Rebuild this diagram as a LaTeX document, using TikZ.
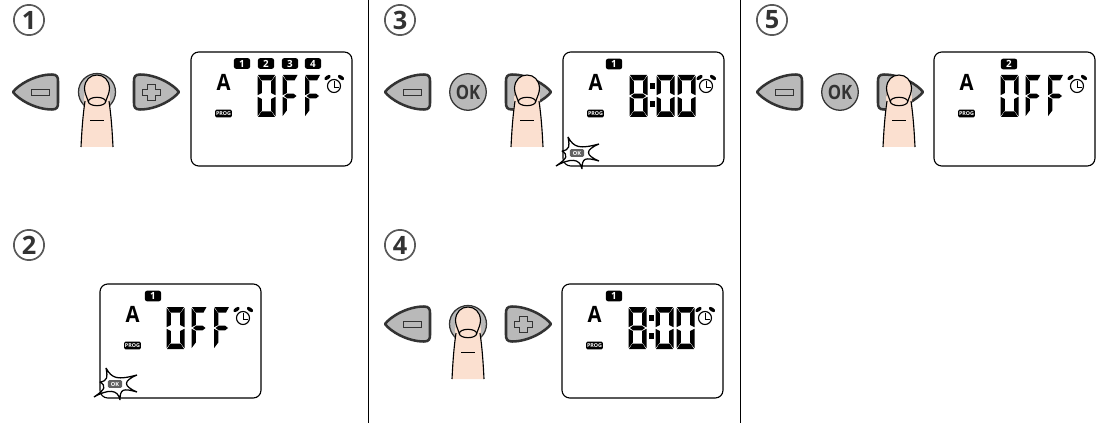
\documentclass[tikz,border=0pt]{standalone}
\usepackage{fontspec}
\setmainfont{Open Sans}
\definecolor{keygrey}{HTML}{B9B9B9}
\definecolor{skin}{HTML}{FBE0D0}
\definecolor{keyline}{HTML}{333333}
\tikzset{
	keyshape/.style={draw=keyline, line width=1.8pt, fill=keygrey, line join=round},
	keyglyph/.style={draw=keyline, line width=0.7pt, fill=keygrey},
	panelbox/.style={draw=black, line width=0.8pt, rounded corners=5.5pt, fill=white},
	badge/.style={fill=black, rounded corners=1.5pt, minimum width=11.5pt, minimum height=7.5pt, inner sep=0pt, text=white, font=\fontsize{7}{7}\selectfont\bfseries},
	stepmark/.style={circle, draw=black!65, line width=1.2pt, minimum size=21.5pt, inner sep=0pt, font=\fontsize{18}{18}\selectfont\bfseries, text=black!80},
	splitter/.style={draw=black, line width=0.5pt},
	fingerline/.style={line width=0.8pt}
}
% segments of one display digit, 17 wide and 42 high
\def\sega{\fill (0,0) -- (17,0) -- (13.5,5.5) -- (3.5,5.5) -- cycle;}
\def\segb{\fill (17.5,0.8) -- (17.5,20.2) -- (13.2,18) -- (13.2,6.5) -- cycle;}
\def\segc{\fill (17.5,21.8) -- (17.5,41.2) -- (13.2,35.5) -- (13.2,24) -- cycle;}
\def\segd{\fill (0,42) -- (17,42) -- (13.5,36.5) -- (3.5,36.5) -- cycle;}
\def\sege{\fill (-0.5,21.8) -- (-0.5,41.2) -- (3.8,35.5) -- (3.8,24) -- cycle;}
\def\segf{\fill (-0.5,0.8) -- (-0.5,20.2) -- (3.8,18) -- (3.8,6.5) -- cycle;}
\def\segg{\fill (1,21) -- (4.2,18.6) -- (12.8,18.6) -- (16,21) -- (12.8,23.4) -- (4.2,23.4) -- cycle;}
% the narrower top and middle bar of the letter F
\def\segh{\fill (0,0) -- (14.5,0) -- (11.5,5.5) -- (3.5,5.5) -- cycle;}
\def\segi{\fill (1,21) -- (4.2,18.6) -- (10.5,18.6) -- (13.5,21) -- (10.5,23.4) -- (4.2,23.4) -- cycle;}
\def\segdigit(#1,#2)#3{\begin{scope}[shift={(#1,#2)}]
	\foreach \s in {#3} {\csname seg\s\endcsname}
\end{scope}}
\def\minuskey(#1,#2){\begin{scope}[shift={(#1,#2)}]
	\draw[keyshape] (0,0) .. controls (5,-7) and (22,-17.5) .. (39,-17.5) .. controls (44,-17.5) and (45,-15) .. (45,-11) -- (45,11) .. controls (45,15) and (44,17.5) .. (39,17.5) .. controls (22,17.5) and (5,7) .. (0,0) -- cycle;
	\draw[keyglyph] (18,-3) rectangle (36,3);
\end{scope}}
\def\pluskey(#1,#2){\begin{scope}[shift={(#1,#2)}]
	\draw[keyshape] (45,0) .. controls (40,-7) and (23,-17.5) .. (6,-17.5) .. controls (1,-17.5) and (0,-15) .. (0,-11) -- (0,11) .. controls (0,15) and (1,17.5) .. (6,17.5) .. controls (23,17.5) and (40,7) .. (45,0) -- cycle;
	\draw[keyglyph] (13,-8) -- (21,-8) -- (21,-3) -- (26,-3) -- (26,3) -- (21,3) -- (21,8) -- (13,8) -- (13,3) -- (8,3) -- (8,-3) -- (13,-3) -- cycle;
\end{scope}}
\def\okkey(#1,#2)#3{\begin{scope}[shift={(#1,#2)}]
	\node[circle, draw=keyline, line width=0.9pt, fill=keygrey, minimum size=26pt, inner sep=0pt, text=keyline, font=\fontsize{14}{14}\selectfont\bfseries] (#3) at (0,0) {\scalebox{0.85}[1]{OK}};
\end{scope}}
\def\roundkey(#1,#2){\draw[keyshape, line width=0.9pt] (#1,#2) circle (18.5);}
\def\finger(#1,#2){\begin{scope}[shift={(#1,#2)}]
	\fill[skin] (-16,72) .. controls (-15,50) and (-13,34) .. (-12.5,14) .. controls (-12,5) and (-7,0) .. (0,0) .. controls (7,0) and (12,5) .. (12.5,14) .. controls (13,34) and (15,50) .. (16,72) -- cycle;
	\draw[fingerline] (-16,72) .. controls (-15,52) and (-14,40) .. (-12,26);
	\draw[fingerline] (16,72) .. controls (15,52) and (14,40) .. (12,26);
	\draw[fingerline] (-8.5,27) .. controls (-10.5,21) and (-12.5,18) .. (-12.5,13) .. controls (-12,5) and (-7,0) .. (0,0) .. controls (7,0) and (12,5) .. (12.5,13) .. controls (12.5,18) and (10.5,21) .. (8.5,27);
	\draw[fingerline] (0,26.5) ellipse (8.7 and 4.2);
	\draw[line width=0.7pt] (-7,45) -- (7,45);
\end{scope}}
\def\lcdbase(#1,#2)#3{\begin{scope}[shift={(#1,#2)}]
	\draw[panelbox] (0,0) rectangle (161,114);
	\node[font=\fontsize{16}{16}\selectfont\bfseries, inner sep=0pt] (#3A) at (32.5,30.5) {\scalebox{0.9}[1]{A}};
	\node[badge, minimum width=12pt, minimum height=5.6pt, rounded corners=1pt, font=\fontsize{3.8}{3.8}\selectfont\bfseries] (#3prog) at (32.5,61.5) {PROG};
	\draw[line width=0.8pt] (143,34) circle (6.5);
	\draw[line width=0.6pt] (143,29) -- (143,35) -- (147.5,35);
	\fill (136.5,25.5) ellipse [x radius=3.6, y radius=1.9, rotate=35];
	\fill (150,25.5) ellipse [x radius=3.6, y radius=1.9, rotate=-35];
\end{scope}}
\def\offtext(#1,#2){\segdigit(#1+67,#2+23){a,b,c,d,e,f}
	\segdigit(#1+92,#2+23){h,e,f,i}
	\segdigit(#1+114.5,#2+23){h,e,f,i}}
\def\timetext(#1,#2){\segdigit(#1+67,#2+23){a,b,c,d,e,f,g}
	\segdigit(#1+94,#2+23){a,b,c,d,e,f}
	\segdigit(#1+115,#2+23){a,b,c,d,e,f}
	\fill (#1+87,#2+31) rectangle (#1+92,#2+37);
	\fill (#1+87,#2+49) rectangle (#1+92,#2+55);}
\def\flash(#1,#2)#3{\begin{scope}[shift={(#1,#2)}]
	\draw[fill=white, line width=0.9pt, line join=bevel] (-9,-16) .. controls (-3,-5) and (3,-4) .. (22,-9) .. controls (8,-3) and (8,2) .. (22,8) .. controls (8,4) and (5,5) .. (5,16) .. controls (3,5) and (-7,5) .. (-21,13) .. controls (-9,5) and (-9,2) .. (-15,-2) .. controls (-8,-3) and (-7,-6) .. (-9,-16) -- cycle;
	\node[fill=black!62, rounded corners=1pt, minimum width=10pt, minimum height=5.6pt, inner sep=0pt, text=white, font=\fontsize{4}{4}\selectfont\bfseries] (#3) at (0,0) {OK};
\end{scope}}

\begin{document}
\begin{tikzpicture}[x=0.025cm, y=-0.025cm]
	%%%%% START %%%%%
	\useasboundingbox (0,0) rectangle (1103,426);

	\node[stepmark] (mark1) at (29,20) {1};
	\node[stepmark] (mark2) at (29,245) {2};
	\node[stepmark] (mark3) at (400,20) {3};
	\node[stepmark] (mark4) at (400,245) {4};
	\node[stepmark] (mark5) at (772,20) {5};

	\draw[splitter] (368.5,0) -- (368.5,423);
	\draw[splitter] (740.5,0) -- (740.5,423);

	% step 1
	\minuskey(13,92);
	\roundkey(97,92);
	\pluskey(134,92);
	\finger(97,75);
	\lcdbase(191,52){one}
	\foreach \n/\xx in {1/51,2/75,3/99,4/122} {
		\node[badge] (oneb\n) at (191+\xx,63.5) {\n};
	}
	\offtext(191,52);

	% step 2
	\lcdbase(100,284){two}
	\node[badge] (twob) at (153,296) {1};
	\offtext(100,284);
	\flash(115,384){twoflash}

	% step 3
	\minuskey(385,92);
	\okkey(468,92){threeok}
	\pluskey(506,92);
	\finger(527,75);
	\lcdbase(563,52){three}
	\node[badge] (threeb) at (614,64) {1};
	\timetext(563,52);
	\flash(577,153){threeflash}

	% step 4
	\minuskey(385,324);
	\roundkey(468,324);
	\pluskey(506,324);
	\finger(468,307);
	\lcdbase(562,284){four}
	\node[badge] (fourb) at (614,296) {1};
	\timetext(562,284);

	% step 5
	\minuskey(757,92);
	\okkey(840,92){fiveok}
	\pluskey(878,92);
	\finger(899,75);
	\lcdbase(934,52){five}
	\node[badge] (fiveb) at (1009,64) {2};
	\offtext(934,52);
	%%%%% END %%%%%
\end{tikzpicture}
\end{document}
